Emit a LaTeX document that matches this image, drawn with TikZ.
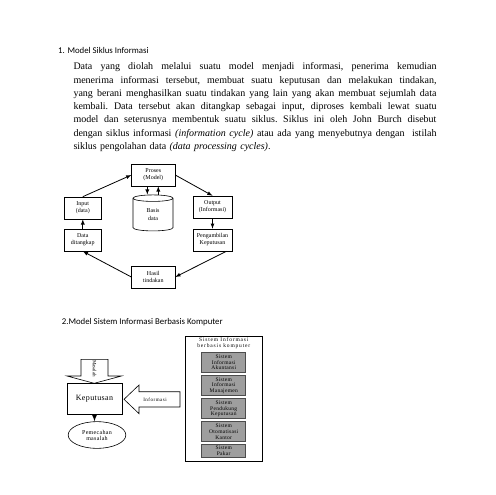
\documentclass[tikz,border=0pt]{standalone}
\usepackage{fontspec}
\setmainfont{Liberation Serif}
\newfontfamily\headfont{Carlito}
\usetikzlibrary{calc,shapes.geometric}
\newcommand{\fullline}[1]{\makebox[363pt][s]{\spaceskip=0pt\xspaceskip=0pt #1}\\}
\newcommand{\renggang}[3]{\fontsize{#1}{#2}\selectfont\addfontfeatures{LetterSpace=#3}}
\tikzset{
  siklusbox/.style={draw, line width=0.6pt, minimum height=22pt, inner sep=0pt, align=center, font=\fontsize{6}{7}\selectfont},
  panah/.style={->, >=latex, line width=0.8pt},
  sibox/.style={draw=black!70, fill=black!38, line width=0.7pt, minimum width=44pt, minimum height=20pt, inner sep=0pt, align=center, font=\renggang{5.5}{5.8}{5}},
  judul/.style={anchor=west, inner sep=0pt, font=\headfont\fontsize{8.8}{10}\selectfont},
}
\begin{document}
\begin{tikzpicture}[x=1pt, y=-1pt]
		%%%%% START %%%%%
		\useasboundingbox[fill=white] (0, 0) rectangle (495, 495);
		
		\node[judul] (judulsatu) at (58, 50.5) {1. Model Siklus Informasi};
		\node[anchor=north west, inner sep=0pt, text width=363pt, align=left, font=\fontsize{10}{13.3}\selectfont\frenchspacing] (teks) at (73.3, 62.5) {%
			\fullline{Data yang diolah melalui suatu model menjadi informasi, penerima kemudian}%
			\fullline{menerima informasi tersebut, membuat suatu keputusan dan melakukan tindakan,}%
			\fullline{yang berani menghasilkan suatu tindakan yang lain yang akan membuat sejumlah data}%
			\fullline{kembali. Data tersebut akan ditangkap sebagai input, diproses kembali lewat suatu}%
			\fullline{model dan seterusnya membentuk suatu siklus. Siklus ini oleh John Burch disebut}%
			\fullline{dengan siklus informasi \textit{(information cycle)} atau ada yang menyebutnya dengan\ \ istilah}%
			siklus pengolahan data \textit{(data processing cycles)}.};
		
		%%%%% SIKLUS %%%%%
		\node[siklusbox, minimum width=43.3pt] (proses) at (153.3, 175) {Proses\\(Model)};
		\node[siklusbox, minimum width=37.7pt] (input) at (82.8, 208) {Input\\(data)};
		\node[siklusbox, minimum width=37.7pt] (data) at (82.8, 240) {Data\\ditangkap};
		\node[siklusbox, minimum width=39pt] (output) at (212.5, 207) {Output\\(Informasi)};
		\node[siklusbox, minimum width=39pt] (ambil) at (212.5, 240) {Pengambilan\\Keputusan};
		\node[siklusbox, minimum width=43.3pt] (hasil) at (153.3, 277) {Hasil\\tindakan};
		\node[draw, cylinder, shape border rotate=90, aspect=0.5, line width=0.6pt, minimum width=40pt, minimum height=36pt, inner sep=0pt, align=center, font=\fontsize{6}{7.5}\selectfont] (basis) at (153, 214.7) {Basis\\data};
		
		\draw[panah] (input.north) -- (proses.west);
		\draw[panah] (proses.east) -- (output.north);
		\draw[panah] (output) -- (ambil);
		\draw[panah] ([xshift=-6pt]ambil.south east) -- (hasil.east);
		\draw[panah] (hasil.west) -- (data.south);
		\draw[panah] (data) -- (input);
		\draw[panah] ([xshift=-6pt]proses.south) -- ([xshift=-6pt]proses.south |- basis.north);
		\draw[panah] ([xshift=5pt]proses.south |- basis.north) -- ([xshift=5pt]proses.south);
		
		%%%%% KOMPUTER %%%%%
		\node[judul] (juduldua) at (61.7, 321.7) {2.Model Sistem Informasi Berbasis Komputer};
		
		\draw[line width=0.6pt] (81, 359.3) -- (108, 359.3) -- (108, 376) -- (121.5, 376) -- (94.2, 383.3) -- (67, 376) -- (81, 376) -- cycle;
		\node[rotate=-90, inner sep=0pt, font=\renggang{5}{5}{0}] (masalah) at (94.5, 368.5) {Masalah};
		\node[draw, line width=0.6pt, minimum width=55pt, minimum height=30.7pt, font=\renggang{8}{9}{5}] (keputusan) at (94.5, 398.5) {Keputusan};
		\node[draw, ellipse, line width=0.6pt, minimum width=57.7pt, minimum height=26.7pt, inner sep=0pt, align=center, font=\renggang{6}{6}{5}] (pemecahan) at (97, 435) {Pemecahan\\masalah};
		\draw[->, >=latex, line width=1.3pt] (keputusan.south) -- (keputusan.south |- pemecahan.north);
		
		\draw[line width=0.6pt] (124, 399.3) -- (139, 385) -- (139, 391.7) -- (180, 391.7) -- (180, 407) -- (139, 407) -- (139, 413.6) -- cycle;
		\node[inner sep=0pt, font=\renggang{5}{5}{10}] (informasi) at (155, 399.3) {Informasi};
		
		\node[draw, line width=0.6pt, minimum width=77pt, minimum height=125.7pt] (sistem) at (223.8, 398.8) {};
		\node[anchor=north, inner sep=0pt, align=center, font=\renggang{5.5}{5.7}{15}] (judulsi) at (223.8, 337.5) {Sistem Informasi\\berbasis komputer};
		\node[sibox] (akuntansi) at (223.7, 362.3) {Sistem\\Informasi\\Akuntansi};
		\node[sibox] (manajemen) at (223.7, 385.7) {Sistem\\Informasi\\Manajemen};
		\node[sibox] (pendukung) at (223.7, 408.8) {Sistem\\Pendukung\\Keputusan};
		\node[sibox] (otomatisasi) at (223.7, 431.7) {Sistem\\Otomatisasi\\Kantor};
		\node[sibox, minimum height=13pt] (pakar) at (223.7, 450.8) {Sistem\\Pakar};
		
		%%%%% END %%%%%
	\end{tikzpicture}
\end{document}
